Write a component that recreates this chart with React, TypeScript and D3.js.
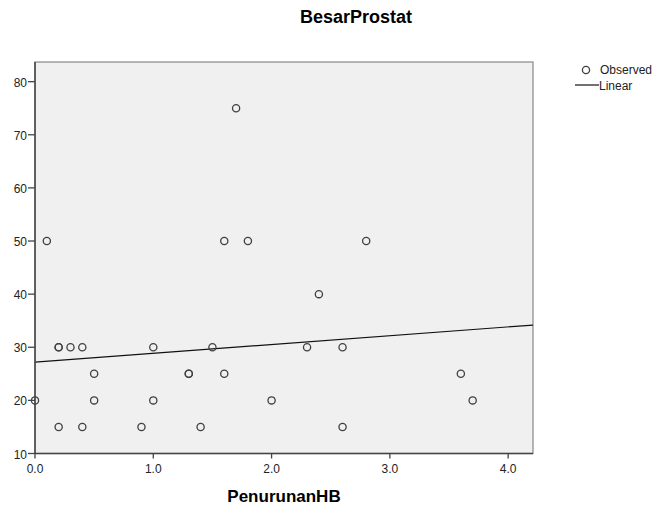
import React from 'react';
import * as d3 from 'd3';

// PenurunanHB (x) vs BesarProstat (y)
const penurunanHB = [0, 0.1, 0.2, 0.2, 0.3, 0.4, 0.2, 0.4, 0.5, 0.5, 0.9, 1.0, 1.0, 1.3, 1.3, 1.4, 1.5, 1.6, 1.6, 1.7, 1.8, 2.0, 2.3, 2.4, 2.6, 2.6, 2.8, 3.6, 3.7];
const besarProstat = [20, 50, 30, 30, 30, 30, 15, 15, 25, 20, 15, 30, 20, 25, 25, 15, 30, 50, 25, 75, 50, 20, 30, 40, 30, 15, 50, 25, 20];
const xTicks = [0, 1, 2, 3, 4];
const yTicks = [10, 20, 30, 40, 50, 60, 70, 80];

const W = 655;
const H = 506;
const plot = { left: 35, right: 533, top: 62, bottom: 453.5 };
const font = '"Liberation Sans", Arial, sans-serif';

const App = () => {
  const x = d3.scaleLinear().domain([0, 4.21]).range([plot.left, plot.right]);
  const y = d3.scaleLinear().domain([10, 83.7]).range([plot.bottom, plot.top]);

  // least squares fit, as SPSS draws it
  const mx = d3.mean(penurunanHB) as number;
  const my = d3.mean(besarProstat) as number;
  const sxy = d3.sum(penurunanHB, (v, i) => (v - mx) * (besarProstat[i] - my));
  const sxx = d3.sum(penurunanHB, (v) => (v - mx) ** 2);
  const slope = sxy / sxx;
  const intercept = my - slope * mx;
  const fitLine = d3.line<number>().x((v) => x(v)).y((v) => y(intercept + slope * v));

  return (
    <svg width={W} height={H} style={{ position: 'absolute', left: 0, top: 0 }} fontFamily={font}>
      <rect x={0} y={0} width={W} height={H} fill="#ffffff" />
      <text x={356} y={23} textAnchor="middle" fontSize={18} fontWeight="bold" fill="#000">BesarProstat</text>

      <rect x={plot.left} y={plot.top} width={plot.right - plot.left} height={plot.bottom - plot.top}
        fill="#f0f0f0" stroke="#888" strokeWidth={1.2} />

      {/* fit line */}
      <path d={fitLine(x.domain()) || ''} stroke="#111" strokeWidth={1.2} fill="none" />

      {/* points */}
      {penurunanHB.map((v, i) => (
        <circle key={i} cx={x(v)} cy={y(besarProstat[i])} r={3.6} fill="none" stroke="#404040" strokeWidth={1.3} />
      ))}

      {/* axes */}
      <line x1={plot.left} x2={plot.left} y1={plot.top} y2={plot.bottom} stroke="#444" strokeWidth={1.5} />
      <line x1={plot.left} x2={plot.right} y1={plot.bottom} y2={plot.bottom} stroke="#444" strokeWidth={1.5} />
      {yTicks.map((t) => (
        <g key={t}>
          <line x1={plot.left - 7} x2={plot.left} y1={y(t)} y2={y(t)} stroke="#444" strokeWidth={1.3} />
          <text x={plot.left - 8} y={y(t) + 5} textAnchor="end" fontSize={12} fill="#222">{t}</text>
        </g>
      ))}
      {xTicks.map((t) => (
        <g key={t}>
          <line x1={x(t)} x2={x(t)} y1={plot.bottom} y2={plot.bottom + 5} stroke="#444" strokeWidth={1.3} />
          <text x={x(t)} y={plot.bottom + 19} textAnchor="middle" fontSize={12} fill="#222">{t.toFixed(1)}</text>
        </g>
      ))}
      <text x={(plot.left + plot.right) / 2} y={502} textAnchor="middle" fontSize={17} fontWeight="bold" fill="#000">PenurunanHB</text>

      {/* legend */}
      <circle cx={586} cy={70} r={3.6} fill="none" stroke="#404040" strokeWidth={1.3} />
      <text x={600} y={74} fontSize={12} fill="#222">Observed</text>
      <line x1={575} x2={599} y1={85} y2={85} stroke="#111" strokeWidth={1.2} />
      <text x={599} y={90} fontSize={12} fill="#222">Linear</text>
    </svg>
  );
};

export default App;
